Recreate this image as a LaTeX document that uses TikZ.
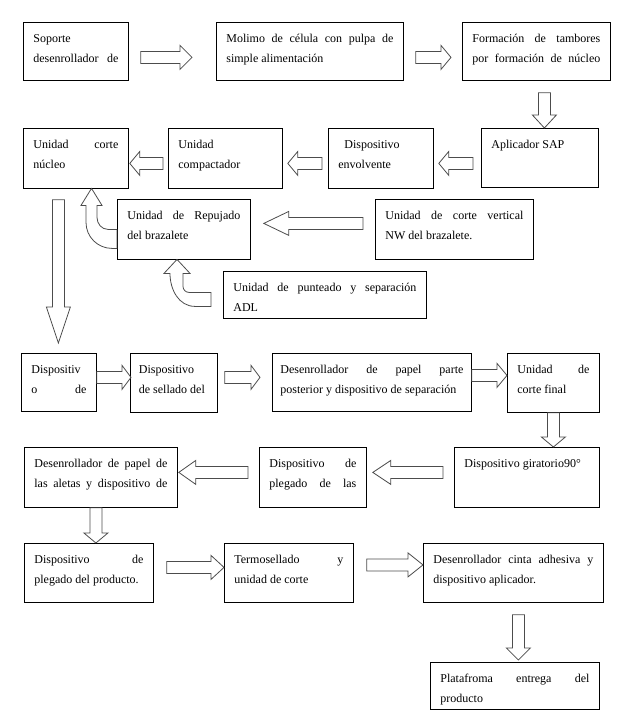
\documentclass[tikz,border=0pt]{standalone}
\usepackage{fontspec}
\setmainfont{Liberation Serif}
\usetikzlibrary{calc}

\tikzset{%
  stepbox/.style={
    draw,
    line width=0.8pt,
    anchor=north west,
    inner xsep=10pt,
    inner ysep=0pt,
    align=justify,
    execute at begin node={\tolerance=10000\hyphenpenalty=10000},
    text height=20pt,
    text depth={#1pt-20pt}
  },
  stepbox/.default=58,
  arrowline/.style={
    draw=black!70,
    line width=0.8pt
  },
}

\newcommand{\blockarr}[5][12]{%
  \coordinate (ba) at ($(#2)+(#3)$);
  \coordinate (bb) at ($(#4)+(#5)$);
  \coordinate (bh) at ($(bb)!#1pt!(ba)$);
  \draw[arrowline] ($(ba)!6pt!90:(bb)$) -- ($(bh)!6pt!90:(bb)$) -- ($(bh)!12pt!90:(bb)$) -- (bb)
    -- ($(bh)!12pt!-90:(bb)$) -- ($(bh)!6pt!-90:(bb)$) -- ($(ba)!6pt!-90:(bb)$) -- cycle;
}

\begin{document}
\begin{tikzpicture}[x=1pt, y=-1pt, font=\fontsize{12}{20}\selectfont]
\useasboundingbox (0,0) rectangle (625,720);

\node[stepbox, text width=85pt] (soporte) at (23,22) {Soporte\\desenrollador de\linebreak};
\node[stepbox, text width=167pt] (molino) at (216,22) {Molimo de célula con pulpa de\linebreak simple alimentación};
\node[stepbox, text width=128pt] (tambores) at (462,22) {Formación de tambores\linebreak por formación de núcleo\linebreak};
\node[stepbox=59, text width=97pt] (sap) at (481,128) {Aplicador SAP};
\node[stepbox=60, text width=85pt] (envolvente) at (328,128) {\hspace*{6pt}Dispositivo\\envolvente};
\node[stepbox=60, text width=94pt] (compactador) at (168,128) {Unidad\\compactador};
\node[stepbox=60, text width=85pt] (nucleo) at (23,128) {Unidad corte\linebreak núcleo};
\node[stepbox=60, text width=113pt] (repujado) at (117,199) {Unidad de Repujado\linebreak del brazalete};
\node[stepbox=60, text width=138pt] (vertical) at (375,199) {Unidad de corte vertical\linebreak NW del brazalete.};
\node[stepbox=47, text width=183pt] (punteado) at (223,271) {Unidad de punteado y separación\linebreak ADL};

\node[stepbox, text width=55pt] (dispositivo) at (21,353) {Dispositiv\\o de\linebreak};
\node[stepbox=59, inner xsep=8.5pt, text width=70pt] (sellado) at (130,353) {Dispositivo\\de sellado del};
\node[stepbox, inner xsep=8pt, text width=183pt] (posterior) at (272,353) {Desenrollador de papel parte\linebreak posterior y dispositivo de separación};
\node[stepbox=59, text width=72pt] (cortefinal) at (507,353) {Unidad de\linebreak corte final};
\node[stepbox=60, text width=125pt] (giratorio) at (454,447) {Dispositivo giratorio90°};
\node[stepbox=60, text width=87pt] (plegado) at (259,447) {Dispositivo de\linebreak plegado de las\linebreak};
\node[stepbox=60, text width=133pt] (aletas) at (24,447) {Desenrollador de papel de\linebreak las aletas y dispositivo de\linebreak};
\node[stepbox=59, text width=109pt] (producto) at (24,543) {Dispositivo de\linebreak plegado del producto.};
\node[stepbox=59, text width=109pt] (termo) at (224,543) {Termosellado y\linebreak unidad de corte};
\node[stepbox=59, text width=160pt] (cinta) at (423,543) {Desenrollador cinta adhesiva y\linebreak dispositivo aplicador.};
\node[stepbox=47, text width=149pt] (entrega) at (430,662) {Platafroma entrega del\linebreak producto};

\blockarr{soporte.east}{12,6}{molino.west}{-24,6}
\blockarr[10]{molino.east}{12,6}{tambores.west}{-11,6}
\blockarr[13]{tambores.south}{8,12}{sap.north}{4.5,0}
\blockarr[10]{sap.west}{-8,5.5}{envolvente.east}{5,5}
\blockarr[10]{envolvente.west}{-6,5}{compactador.east}{5,5}
\blockarr[10]{compactador.west}{-5,5}{nucleo.east}{1,5}
\blockarr[25]{vertical.west}{-12,-6}{repujado.east}{13,-6}
\blockarr[36]{nucleo.south}{-17.5,11}{dispositivo.north}{-0.5,-10}

\draw[arrowline] (repujado.west) -- ++(-9,0) to[out=180,in=-90] ++(-11,-12) -- ++(0,-12) -- ++(5,0)
  -- ++(-10.5,-17) -- ++(-10.5,17) -- ++(5,0) -- ++(0,17) to[out=-90,in=180] ++(26,26) -- ++(5,0) -- cycle;
\draw[arrowline] ($(punteado.west)+(-12,-2.5)$) -- ++(-22,0) to[out=180,in=-90] ++(-6,-6) -- ++(0,-13) -- ++(7,0)
  -- ++(-13,-14) -- ++(-13,14) -- ++(6,0) to[out=-90,in=180] ++(25,33) -- ++(16,0) -- cycle;

\blockarr[9]{dispositivo.east}{0,-5}{sellado.west}{1,-5.5}
\blockarr[9]{sellado.east}{7,-5.5}{posterior.west}{-12,-5}
\blockarr[10]{posterior.east}{0,-7}{cortefinal.west}{0,-7.5}
\blockarr[10]{cortefinal.south}{0,0}{giratorio.north}{26.5,0}
\blockarr[18]{giratorio.west}{-11,-5}{plegado.east}{6,-5}
\blockarr[17]{plegado.west}{-11,-5}{aletas.east}{1,-5}
\blockarr[10]{aletas.south}{-5,0}{producto.north}{7,0}
\blockarr[13]{producto.east}{13,-5.5}{termo.west}{0,-5.5}
\blockarr[15]{termo.east}{13,-8}{cinta.west}{0,-8}
\blockarr[12]{cinta.south}{5,12}{entrega.north}{3.5,-2}

\end{tikzpicture}
\end{document}
